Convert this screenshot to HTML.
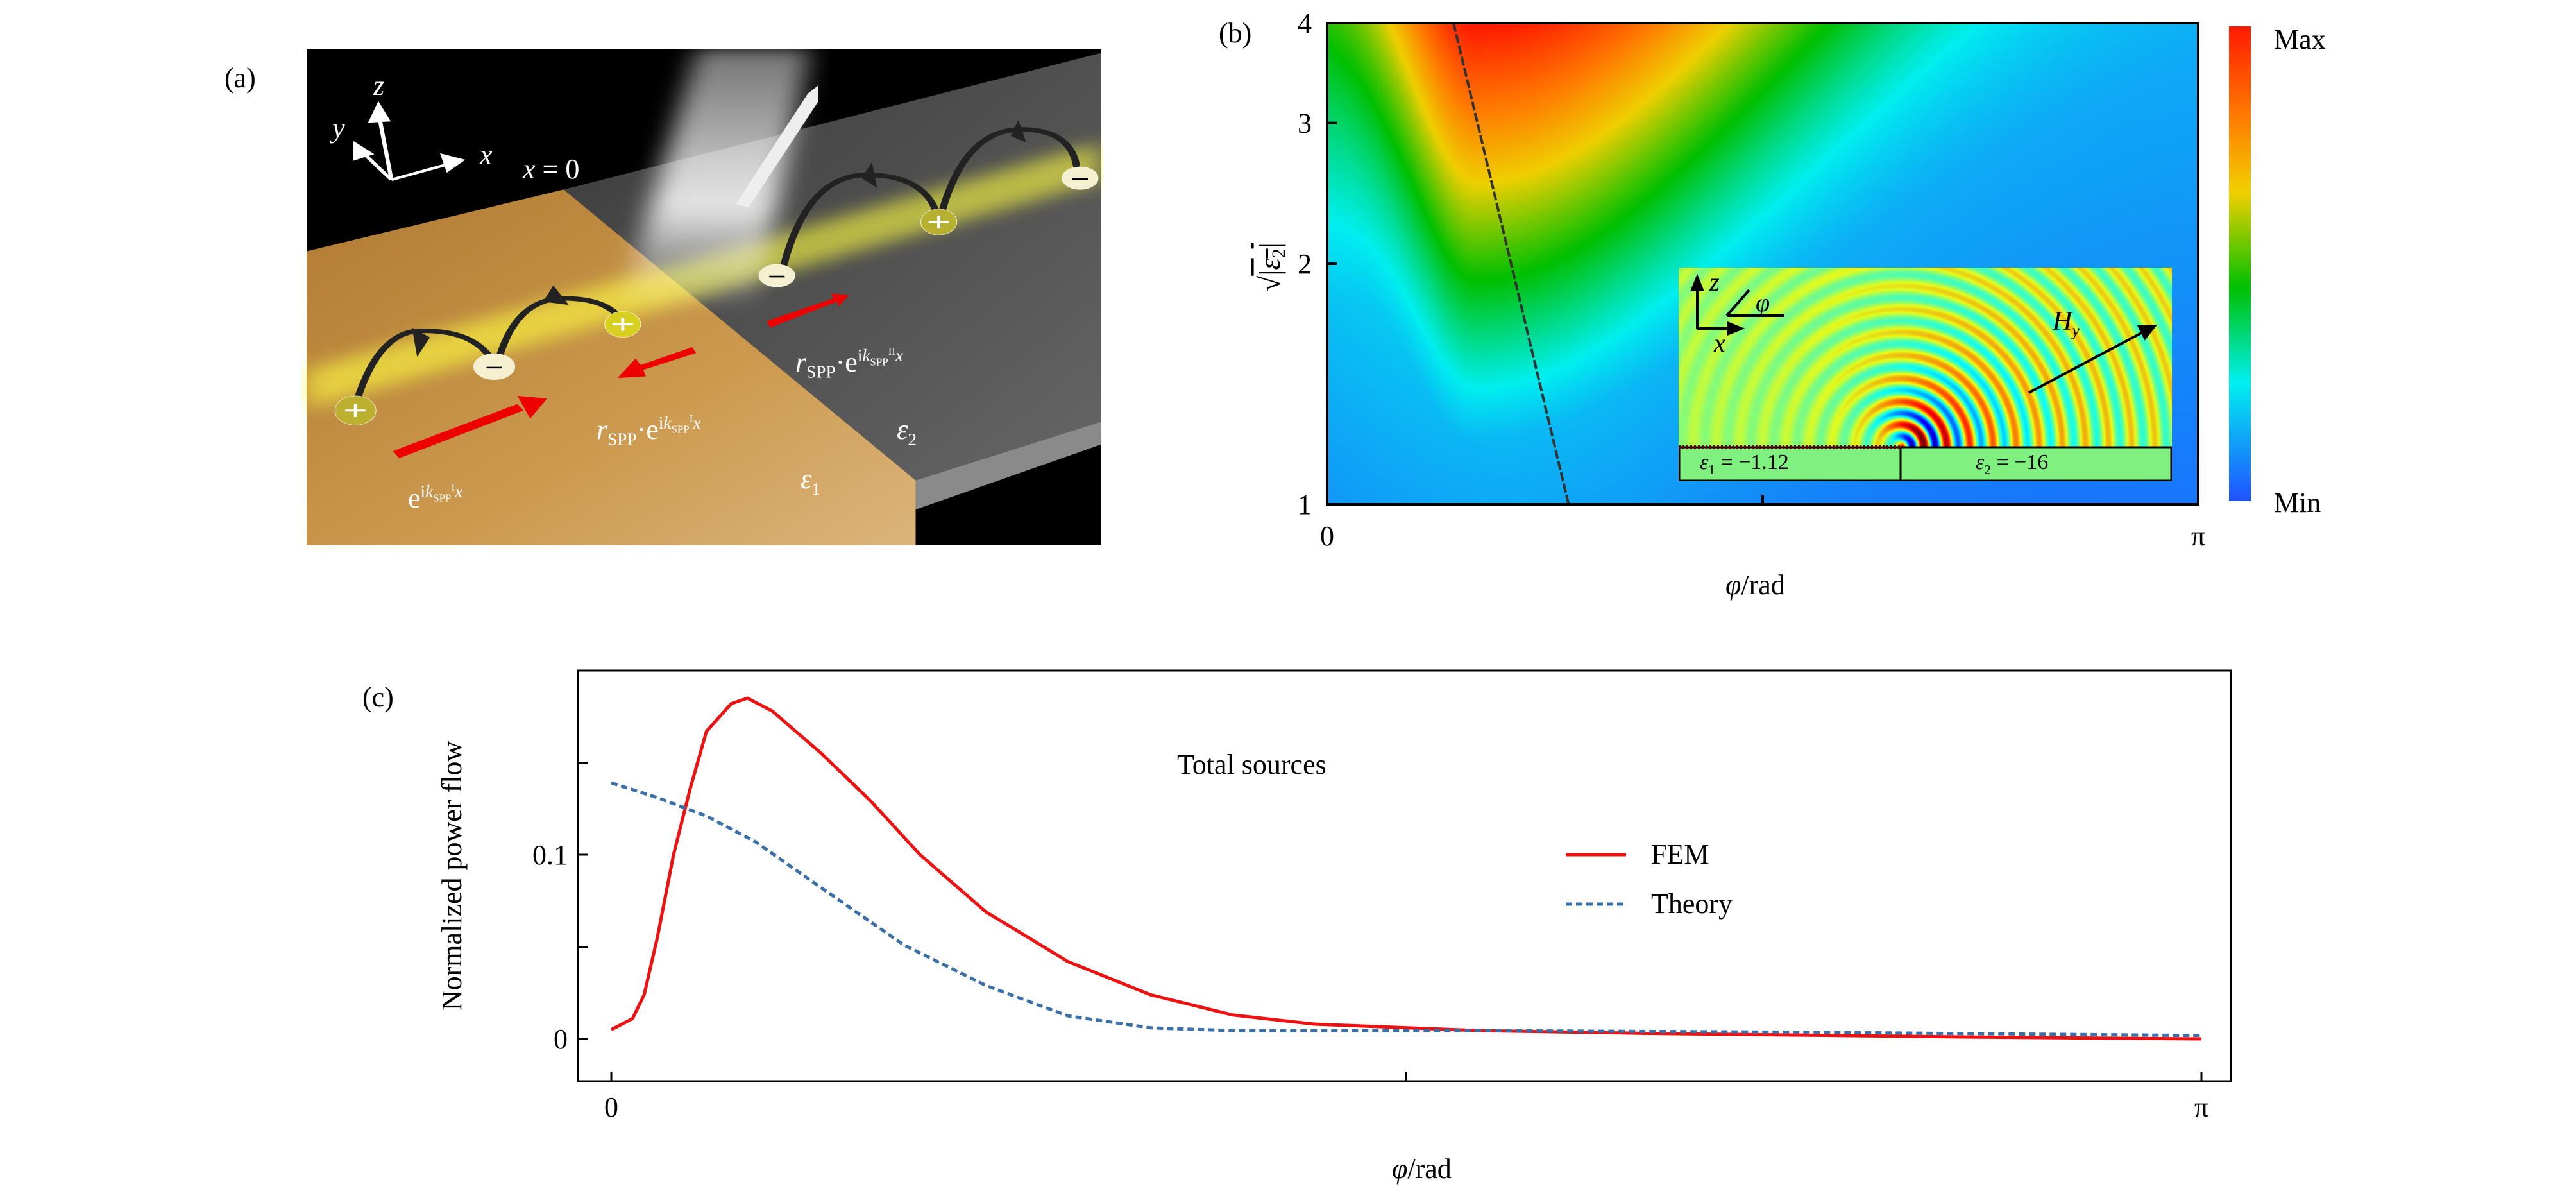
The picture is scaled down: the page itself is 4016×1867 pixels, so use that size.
<!DOCTYPE html>
<html><head><meta charset="utf-8"><style>
body{margin:0;background:#fff;}
#root{position:relative;width:4016px;height:1867px;overflow:hidden;background:#fff;font-family:"Liberation Serif",serif;}
.t{position:absolute;font-family:"Liberation Serif",serif;font-size:44px;color:#000;white-space:nowrap;line-height:1;}
.w{color:#fff;}
i{font-style:italic;}
sub,sup{font-size:0.62em;}
</style></head><body>
<div id="root">

<!-- Panel A -->
<div class="t" style="left:350px;top:100px;">(a)</div>
<svg style="position:absolute;left:470px;top:70px;" width="1250" height="790" viewBox="0 0 1560 1560" preserveAspectRatio="none">
<defs>
<linearGradient id="og" x1="0" y1="0" x2="1" y2="1"><stop offset="0" stop-color="#b07a32"/><stop offset="0.6" stop-color="#cc9a4e"/><stop offset="1" stop-color="#dcb47c"/></linearGradient>
<linearGradient id="gg" x1="0" y1="0" x2="1" y2="1"><stop offset="0" stop-color="#3a3a3a"/><stop offset="1" stop-color="#666"/></linearGradient>
<linearGradient id="beam" x1="0" y1="0" x2="0" y2="1"><stop offset="0" stop-color="#fff" stop-opacity="0.45"/><stop offset="0.6" stop-color="#fff" stop-opacity="0.85"/><stop offset="1" stop-color="#fff" stop-opacity="0"/></linearGradient>
<filter id="bl"><feGaussianBlur stdDeviation="25"/></filter>
</defs>
<rect x="10" y="12" width="1545" height="1528" fill="#000"/>
<polygon points="510,445 1555,25 1555,1160 1195,1340" fill="url(#gg)"/>
<polygon points="1195,1340 1555,1160 1555,1230 1195,1430" fill="#8a8a8a"/>
<polygon points="10,635 510,445 1195,1340 1195,1540 10,1540" fill="url(#og)"/>
<polygon points="10,1000 1555,300 1555,420 10,1120" fill="#ffff40" opacity="0.6" filter="url(#bl)"/>
<polygon points="770,12 990,12 880,820 620,820" fill="url(#beam)" filter="url(#bl)"/>
<polygon points="845,490 985,150 1005,125 1005,175 870,500" fill="#eee"/>
<polygon points="178,1250 420,1105 432,1125 190,1272" fill="#e00"/>
<polygon points="420,1080 478,1088 445,1150" fill="#e00"/>
<polygon points="760,930 660,985 650,965 615,1025 670,1020 665,1000 768,948" fill="#e00"/>
<polygon points="905,850 1035,780 1030,765 1065,770 1045,805 1042,790 912,870" fill="#e00"/>
<g fill="none" stroke="#222" stroke-width="14">
<path d="M105,1110 Q150,870 240,880 Q340,880 375,980"/>
<path d="M385,960 Q420,780 510,780 Q600,780 625,855"/>
<path d="M935,700 Q980,400 1100,400 Q1220,400 1240,540"/>
<path d="M1245,520 Q1290,260 1400,260 Q1510,260 1510,410"/>
</g>
<g fill="#222"><polygon points="215,870 250,900 225,960"/><polygon points="490,740 520,800 470,790"/><polygon points="1110,360 1120,440 1090,410"/><polygon points="1395,230 1410,300 1380,280"/></g>
<g font-family="Liberation Sans" font-size="60" fill="#fff" stroke="#fff">
<ellipse cx="105" cy="1125" rx="40" ry="45" fill="#bbb030"/><ellipse cx="375" cy="990" rx="40" ry="40" fill="#f5f0d0"/>
<ellipse cx="625" cy="860" rx="35" ry="40" fill="#d8d020"/><ellipse cx="925" cy="710" rx="35" ry="35" fill="#f5f0d0"/>
<ellipse cx="1240" cy="545" rx="35" ry="40" fill="#b8b030"/><ellipse cx="1515" cy="410" rx="35" ry="35" fill="#f5f0d0"/>
</g>
<g stroke="#fff" stroke-width="6"><path d="M85,1125h40M105,1105v40M605,860h40M625,840v40M1220,545h40M1240,525v40"/></g>
<g stroke="#000" stroke-width="5"><path d="M360,993h30M910,713h30M1500,413h30"/></g>
<g stroke="#fff" stroke-width="8" fill="#fff">
<path d="M175,415 L150,210 M175,415 L290,365 M175,415 L115,325" fill="none"/>
<polygon points="150,185 135,235 168,232"/><polygon points="312,355 275,340 285,385"/><polygon points="105,305 105,350 135,335"/>
</g>
</svg>
<div class="t w" style="left:582px;top:112px;font-size:44px;"><i>z</i></div>
<div class="t w" style="left:518px;top:178px;"><i>y</i></div>
<div class="t w" style="left:748px;top:220px;"><i>x</i></div>
<div class="t w" style="left:815px;top:242px;"><i>x</i> = 0</div>
<div class="t w" style="left:636px;top:752px;">e<sup>i<i>k</i><sub>SPP</sub><sup>I</sup><i>x</i></sup></div>
<div class="t w" style="left:930px;top:645px;"><i>r</i><sub>SPP</sub>·e<sup>i<i>k</i><sub>SPP</sub><sup>I</sup><i>x</i></sup></div>
<div class="t w" style="left:1240px;top:540px;"><i>r</i><sub>SPP</sub>·e<sup>i<i>k</i><sub>SPP</sub><sup>II</sup><i>x</i></sup></div>
<div class="t w" style="left:1398px;top:648px;"><i>ε</i><sub>2</sub></div>
<div class="t w" style="left:1248px;top:725px;"><i>ε</i><sub>1</sub></div>

<!-- Panel B -->
<div class="t" style="left:1900px;top:30px;">(b)</div>
<canvas id="heat" width="1358" height="750" style="position:absolute;left:2069px;top:36px;"></canvas>
<svg id="bsvg" style="position:absolute;left:0;top:0;" width="4016" height="1000"></svg>
<canvas id="inset" width="769" height="333" style="position:absolute;left:2617px;top:417px;"></canvas>
<svg style="position:absolute;left:2617px;top:417px;" width="769" height="333">
<rect x="1" y="280" width="767" height="52" fill="#80f080" stroke="#000" stroke-width="3"/>
<line x1="346" y1="280" x2="346" y2="333" stroke="#000" stroke-width="3"/>
<line x1="0" y1="280" x2="346" y2="280" stroke="#600" stroke-width="6" stroke-dasharray="3,3"/>
<g stroke="#000" stroke-width="4" fill="#000">
<line x1="29" y1="95" x2="29" y2="30"/><polygon points="29,15 21,35 37,35"/>
<line x1="29" y1="95" x2="85" y2="95"/><polygon points="98,95 78,87 78,103"/>
<line x1="75" y1="75" x2="165" y2="75" fill="none"/><line x1="75" y1="75" x2="110" y2="35"/>
<line x1="546" y1="195" x2="725" y2="100"/><polygon points="742,91 718,92 727,110"/>
</g>
</svg>
<div class="t" style="left:2665px;top:420px;font-size:40px;"><i>z</i></div>
<div class="t" style="left:2672px;top:515px;font-size:40px;"><i>x</i></div>
<div class="t" style="left:2737px;top:452px;font-size:40px;"><i>φ</i></div>
<div class="t" style="left:3200px;top:480px;font-size:42px;"><i>H<sub>y</sub></i></div>
<div class="t" style="left:2650px;top:704px;font-size:34px;"><i>ε</i><sub>1</sub> = −1.12</div>
<div class="t" style="left:3080px;top:704px;font-size:34px;"><i>ε</i><sub>2</sub> = −16</div>
<div style="position:absolute;left:3475px;top:41px;width:34px;height:740px;background:linear-gradient(to bottom,#ff1a00,#ff8000 20%,#f0d000 35%,#00c000 55%,#00f0f0 75%,#2050ff)"></div>
<div class="t" style="left:3545px;top:40px;">Max</div>
<div class="t" style="left:3545px;top:762px;">Min</div>
<div class="t" style="left:2690px;top:890px;"><i>φ</i>/rad</div>

<!-- Panel C -->
<div class="t" style="left:565px;top:1065px;">(c)</div>
<svg id="csvg" style="position:absolute;left:0;top:0;" width="4016" height="1867"></svg>
<div class="t" style="left:705px;top:1365px;transform:translate(-50%,-50%) rotate(-90deg);">Normalized power flow</div>
<div class="t" style="left:2170px;top:1800px;"><i>φ</i>/rad</div>
<div class="t" style="left:1835px;top:1170px;">Total sources</div>
<div class="t" style="left:2574px;top:1310px;">FEM</div>
<div class="t" style="left:2574px;top:1387px;">Theory</div>
</div>
<script>
// ---- Panel C data ----
const femPhi = [0,0.042,0.065,0.091,0.123,0.156,0.188,0.237,0.269,0.318,0.415,0.513,0.610,0.740,0.902,1.065,1.227,1.389,1.714,2.038,2.363,2.687,3.1416];
const femVal = [0.005,0.011,0.024,0.055,0.100,0.136,0.167,0.182,0.185,0.178,0.155,0.129,0.100,0.069,0.042,0.024,0.013,0.008,0.0045,0.003,0.002,0.001,0];
const theoryPhi = [0,0.091,0.188,0.285,0.415,0.578,0.740,0.902,1.065,1.227,1.714,2.363,3.1416];
const theoryVal = [0.139,0.131,0.121,0.107,0.082,0.051,0.029,0.0125,0.006,0.0045,0.0045,0.0036,0.0018];
const cYTicks = [0,0.05,0.1,0.15];
const cYTickLabels = ["0","","0.1",""];
const xTicks = [0,Math.PI/2,Math.PI];
const xTickLabels = ["0","","π"];
// ---- Panel B data ----
const bYTicks = [1,2,3,4];
const bYTickLabels = ["1","2","3","4"];
const cutoffLine = [[0.456,4],[0.871,1]];

const NS="http://www.w3.org/2000/svg";
function mk(p,tag,attrs){const e=document.createElementNS(NS,tag);for(const k in attrs)e.setAttribute(k,attrs[k]);p.appendChild(e);return e;}

// Panel C
const cs=document.getElementById('csvg');
const cx=v=>953+(v/Math.PI)*(3432-953);
const cy=v=>1619-v*2870;
let fr=mk(cs,'rect',{x:901,y:1045,width:2577,height:640,fill:'none',stroke:'#000','stroke-width':3});


cYTicks.forEach((v,i)=>{
  const l=mk(cs,'line',{x1:901,x2:916,y1:cy(v),y2:cy(v),stroke:'#000','stroke-width':3});
  
  
  if(cYTickLabels[i]){const t=mk(cs,'text',{x:885,y:cy(v)+15,'text-anchor':'end','font-size':44,'font-family':'Liberation Serif'});t.textContent=cYTickLabels[i];
  
  }
});
xTicks.forEach((v,i)=>{
  const l=mk(cs,'line',{x1:cx(v),x2:cx(v),y1:1685,y2:1670,stroke:'#000','stroke-width':3});
  
  
  if(xTickLabels[i]){const t=mk(cs,'text',{x:cx(v),y:1740,'text-anchor':'middle','font-size':44,'font-family':'Liberation Serif'});t.textContent=xTickLabels[i];
  
  }
});
const fem=mk(cs,'polyline',{points:femPhi.map((p,i)=>cx(p)+','+cy(femVal[i])).join(' '),fill:'none',stroke:'#ee1111','stroke-width':5});


const th=mk(cs,'polyline',{points:theoryPhi.map((p,i)=>cx(p)+','+cy(theoryVal[i])).join(' '),fill:'none',stroke:'#3a6fa8','stroke-width':5,'stroke-dasharray':'10,6'});


const lf=mk(cs,'line',{x1:2441,x2:2535,y1:1332,y2:1332,stroke:'#ee1111','stroke-width':5});


const lt=mk(cs,'line',{x1:2441,x2:2535,y1:1409,y2:1409,stroke:'#3a6fa8','stroke-width':5,'stroke-dasharray':'10,6'});



// Panel B axes
const bs=document.getElementById('bsvg');
const bx=v=>2069+(v/Math.PI)*1358;
const by=v=>786-Math.log(v)/Math.log(4)*750;
const cl=mk(bs,'line',{x1:bx(cutoffLine[0][0]),y1:by(cutoffLine[0][1]),x2:bx(cutoffLine[1][0]),y2:by(cutoffLine[1][1]),stroke:'#333','stroke-width':4,'stroke-dasharray':'14,4'});


const bf=mk(bs,'rect',{x:2069,y:36,width:1358,height:750,fill:'none',stroke:'#000','stroke-width':4});


bYTicks.forEach((v,i)=>{
  const l=mk(bs,'line',{x1:2069,x2:2084,y1:by(v),y2:by(v),stroke:'#000','stroke-width':4});
  
  
  const t=mk(bs,'text',{x:2045,y:by(v)+15,'text-anchor':'end','font-size':44,'font-family':'Liberation Serif'});t.textContent=bYTickLabels[i];
  
  
});
xTicks.forEach((v,i)=>{
  const l=mk(bs,'line',{x1:bx(v),x2:bx(v),y1:786,y2:771,stroke:'#000','stroke-width':4});
  
  
  if(xTickLabels[i]){const t=mk(bs,'text',{x:bx(v),y:850,'text-anchor':'middle','font-size':44,'font-family':'Liberation Serif'});t.textContent=xTickLabels[i];
  
  }
});
const yt=mk(bs,'text',{x:0,y:0,'font-size':46,'font-family':'Liberation Serif',transform:'translate(1995,455) rotate(-90)'});
yt.innerHTML='√<tspan text-decoration="overline">|<tspan font-style="italic">ε</tspan><tspan font-size="30" dy="8">2</tspan><tspan dy="-8">|</tspan></tspan>';



function jet(v){v=Math.max(0,Math.min(1,v));
 const r=Math.max(0,Math.min(1,1.5-Math.abs(4*v-3))),g=Math.max(0,Math.min(1,1.5-Math.abs(4*v-2))),b=Math.max(0,Math.min(1,1.5-Math.abs(4*v-1)));
 return [r*255|0,g*255|0,b*255|0];}
const cmS=[[0,32,80,255],[0.25,0,240,240],[0.45,0,192,0],[0.65,240,208,0],[0.8,255,128,0],[1,255,26,0]];
function cmap(v){v=Math.max(0,Math.min(1,v));for(let i=1;i<cmS.length;i++){if(v<=cmS[i][0]){const a=cmS[i-1],b=cmS[i],t=(v-a[0])/(b[0]-a[0]);return [a[1]+(b[1]-a[1])*t|0,a[2]+(b[2]-a[2])*t|0,a[3]+(b[3]-a[3])*t|0];}}return [255,26,0];}
// heatmap image
(function(){const c=document.getElementById('heat'),ctx=c.getContext('2d');
 const W=340,H=188,off=document.createElement('canvas');off.width=W;off.height=H;const o=off.getContext('2d');const im=o.createImageData(W,H);
 for(let j=0;j<H;j++)for(let i=0;i<W;i++){const u=i/W,v=1-j/H;
  const c0=0.17;const peak=0.08+0.92*Math.pow(v,1.2);const bg=0.06+0.08*v;
  let I;
  const extra=bg+0.16*v*Math.exp(-Math.pow((u-0.2)/0.45,2))+0.08*Math.exp(-Math.pow((u-0.2)/0.3,2))*(1-v);
  if(u>=c0){const s=0.15+0.25*v;I=bg+(peak-bg)*Math.exp(-Math.pow((u-c0)/s,2));}
  else{const fl=0.08+0.37*Math.pow(v,1.5);const s=0.05+0.05*v;I=fl+(peak-fl)*Math.exp(-Math.pow((u-c0)/s,2));}
  I=Math.max(I,extra);
  const col=cmap(I);const k=(j*W+i)*4;im.data[k]=col[0];im.data[k+1]=col[1];im.data[k+2]=col[2];im.data[k+3]=255;}
 o.putImageData(im,0,0);ctx.imageSmoothingEnabled=true;ctx.drawImage(off,0,0,1358,750);})();
// inset waves
(function(){const c=document.getElementById('inset'),ctx=c.getContext('2d');const W=769,H=280;const im=ctx.createImageData(W,H);
 const X0=346,Y0=280,lam=36;
 for(let y=0;y<H;y++)for(let x=0;x<W;x++){const dx=x-X0,dy=Y0-y;const r=Math.sqrt(dx*dx+dy*dy)+0.1;const th=Math.atan2(dy,dx);
  const ang=0.25+0.75*Math.pow(Math.max(0,Math.cos((th)/2)),2);
  const A=Math.min(0.5,0.014*Math.sqrt(40)+22/r)*ang;
  const v=0.55+A*Math.cos(2*Math.PI*r/lam);const col=jet(v);
  const m=0.35*(1-Math.min(1,A*4));
  const k=(y*W+x)*4;im.data[k]=col[0]*(1-m)+128*m;im.data[k+1]=col[1]*(1-m)+240*m;im.data[k+2]=col[2]*(1-m)+128*m;im.data[k+3]=255;}
 ctx.putImageData(im,0,0);})();
</script>
</body></html>
